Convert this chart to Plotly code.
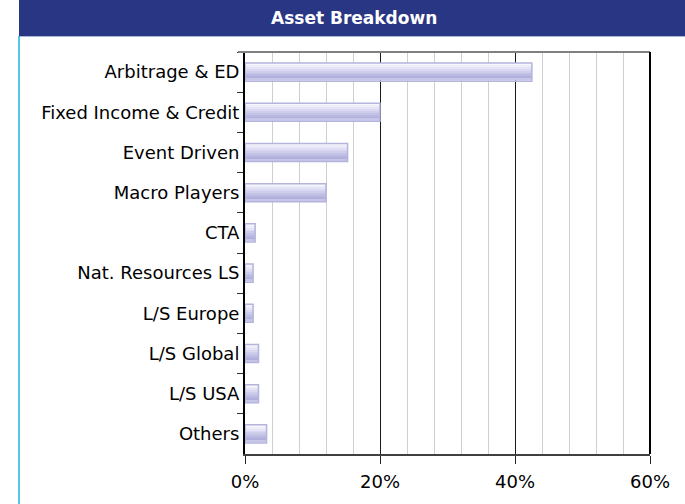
import plotly.graph_objects as go

categories = ["Arbitrage & ED", "Fixed Income & Credit", "Event Driven", "Macro Players",
              "CTA", "Nat. Resources LS", "L/S Europe", "L/S Global", "L/S USA", "Others"]
values = [42.5, 20.0, 15.2, 12.0, 1.5, 1.2, 1.2, 2.0, 2.0, 3.2]
x_ticks = [0, 20, 40, 60]
x_tick_labels = ["0%", "20%", "40%", "60%"]
title_text = "Asset Breakdown"

W, H = 685, 504
ml, mr, mt, mb = 245, 35, 52, 50
pw, ph = W - ml - mr, H - mt - mb

def px_x(p):
    return (p - ml) / pw

def px_y(p):
    return (H - mb - p) / ph

bar_w = 0.45
band_colors = ["#f6f6fd", "#eeeefa", "#e4e4f6", "#d9d9f1", "#ceceec", "#c3c3e6",
               "#b9b9e1", "#b0b0dc", "#c6c6e8"]
n = len(band_colors)
inner = bar_w * 0.94
fig = go.Figure()
for i, c in enumerate(band_colors):
    fig.add_trace(go.Bar(
        x=values, y=categories, orientation="h",
        width=inner / n, offset=-inner / 2 + i * inner / n,
        marker=dict(color=c, line=dict(width=0)),
        hoverinfo="skip", showlegend=False))
fig.add_trace(go.Bar(
    x=values, y=categories, orientation="h", width=bar_w,
    marker=dict(color="rgba(0,0,0,0)", line=dict(color="#b4b4dc", width=1.5)),
    showlegend=False))

fig.update_layout(
    width=W, height=H, barmode="overlay",
    margin=dict(l=ml, r=mr, t=mt, b=mb),
    paper_bgcolor="white", plot_bgcolor="white",
    font=dict(family="DejaVu Sans", color="black"),
    xaxis=dict(range=[0, 60], tickvals=x_ticks, ticktext=x_tick_labels,
               showgrid=True, gridcolor="#1a1a1a", gridwidth=1,
               minor=dict(dtick=4, tick0=0, showgrid=True, gridcolor="#cfcfcf", gridwidth=1),
               showline=True, linecolor="#404040", linewidth=2,
               ticks="outside", ticklen=8, tickcolor="#222", tickwidth=1,
               ticklabelstandoff=2, automargin=False,
               tickfont=dict(size=18), zeroline=False, fixedrange=True),
    yaxis=dict(categoryorder="array", categoryarray=categories, autorange="reversed",
               showline=True, linecolor="black", linewidth=2, automargin=False,
               ticks="outside", tickson="boundaries", ticklen=6, tickcolor="#333",
               tickfont=dict(size=18), showgrid=False, fixedrange=True),
    shapes=[
        dict(type="rect", xref="paper", yref="paper", x0=px_x(19), x1=px_x(685),
             y0=px_y(36), y1=px_y(0), fillcolor="#293684", line=dict(width=0), layer="below"),
        dict(type="line", xref="paper", yref="paper", x0=px_x(19), x1=px_x(685),
             y0=px_y(36.5), y1=px_y(36.5), line=dict(color="#a8b4d8", width=1)),
        dict(type="line", xref="paper", yref="paper", x0=px_x(19), x1=px_x(19),
             y0=px_y(36), y1=px_y(504), line=dict(color="#1eb4dc", width=1.5)),
        dict(type="line", xref="paper", yref="paper", x0=px_x(238), x1=1,
             y0=1, y1=1, line=dict(color="#808080", width=2)),
        dict(type="line", xref="paper", yref="paper", x0=1, x1=1,
             y0=0, y1=1, line=dict(color="black", width=2)),
    ],
    annotations=[dict(text="<b>" + title_text + "</b>", xref="paper", yref="paper",
                      x=px_x(354), y=px_y(18), xanchor="center", yanchor="middle",
                      showarrow=False,
                      font=dict(color="white", size=17, family="DejaVu Sans"))],
)

fig.write_html("out.html", config={"displayModeBar": False},
               post_script="document.body.style.margin='0';")
